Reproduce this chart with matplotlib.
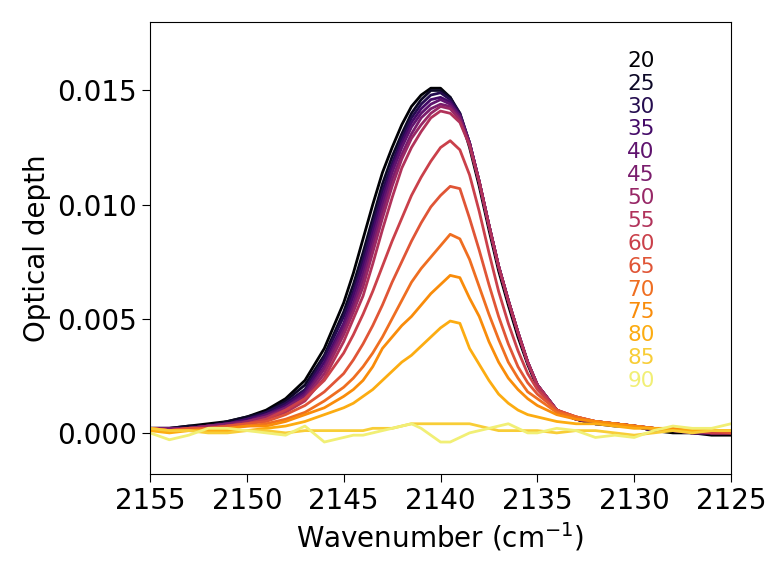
import numpy as np
import matplotlib
matplotlib.use('Agg')
import matplotlib.pyplot as plt

# wavenumber grid (cm-1)
wn = [2155, 2154, 2153, 2152, 2151, 2150, 2149, 2148, 2147, 2146, 2145,
      2144.5, 2144, 2143.5, 2143, 2142.5, 2142, 2141.5, 2141, 2140.5, 2140,
      2139.5, 2139, 2138.5, 2138, 2137.5, 2137, 2136.5, 2136, 2135.5, 2135,
      2134, 2133, 2132, 2131, 2130, 2129, 2128, 2127, 2126, 2125]

# temperatures (K)
temps = [20, 25, 30, 35, 40, 45, 50, 55, 60, 65, 70, 75, 80, 85, 90]

# optical depth for each temperature
od_20 = [.0002, .0002, .0003, .0004, .0005, .0007, .0010, .0015, .0023, .0037, .0057,
         .0070, .0085, .0100, .0114, .0125, .0135, .0143, .0148, .0151, .0151,
         .0147, .0139, .0125, .0108, .0089, .0071, .0056, .0042, .0030, .0020,
         .0009, .0006, .0004, .0003, .0003, .0001, .0000, .0000, -.0001, -.0001]
od_25 = [.0002, .0002, .0003, .0003, .0005, .0007, .0009, .0014, .0021, .0034, .0053,
         .0065, .0079, .0094, .0109, .0121, .0131, .0140, .0146, .0150, .0150,
         .0147, .0140, .0127, .0110, .0091, .0073, .0058, .0044, .0031, .0021,
         .0010, .0006, .0004, .0004, .0003, .0001, .0001, .0000, .0000, .0000]
od_30 = [.0002, .0002, .0002, .0003, .0004, .0006, .0009, .0013, .0019, .0033, .0051,
         .0062, .0076, .0091, .0106, .0118, .0129, .0138, .0144, .0148, .0149,
         .0146, .0140, .0127, .0110, .0091, .0073, .0058, .0044, .0031, .0021,
         .0010, .0006, .0004, .0004, .0003, .0001, .0001, .0000, .0000, .0000]
od_35 = [.0002, .0002, .0002, .0003, .0004, .0006, .0008, .0012, .0018, .0031, .0048,
         .0060, .0073, .0088, .0103, .0116, .0127, .0136, .0142, .0146, .0147,
         .0145, .0139, .0127, .0110, .0091, .0073, .0058, .0044, .0031, .0021,
         .0010, .0006, .0004, .0004, .0003, .0001, .0001, .0000, .0000, .0000]
od_40 = [.0002, .0002, .0002, .0003, .0004, .0005, .0008, .0011, .0017, .0029, .0047,
         .0057, .0070, .0085, .0100, .0114, .0125, .0134, .0140, .0144, .0146,
         .0144, .0139, .0127, .0110, .0091, .0073, .0058, .0044, .0031, .0021,
         .0010, .0006, .0005, .0004, .0003, .0002, .0001, .0000, .0000, .0000]
od_45 = [.0002, .0002, .0002, .0003, .0004, .0005, .0007, .0011, .0016, .0028, .0045,
         .0055, .0067, .0082, .0097, .0111, .0122, .0131, .0138, .0142, .0144,
         .0143, .0138, .0127, .0110, .0091, .0073, .0058, .0044, .0031, .0021,
         .0010, .0006, .0005, .0004, .0003, .0002, .0001, .0000, .0000, .0000]
od_50 = [.0002, .0001, .0002, .0003, .0003, .0005, .0007, .0010, .0015, .0026, .0043,
         .0053, .0064, .0079, .0094, .0108, .0120, .0129, .0135, .0140, .0143,
         .0142, .0137, .0126, .0110, .0091, .0073, .0058, .0044, .0031, .0021,
         .0010, .0006, .0005, .0004, .0003, .0002, .0001, .0001, .0000, .0000]
od_55 = [.0002, .0001, .0002, .0002, .0003, .0004, .0006, .0009, .0014, .0024, .0040,
         .0050, .0060, .0074, .0089, .0103, .0116, .0125, .0132, .0138, .0141,
         .0140, .0136, .0126, .0110, .0091, .0073, .0058, .0044, .0031, .0021,
         .0010, .0007, .0005, .0004, .0003, .0002, .0001, .0001, .0000, .0000]
od_60 = [.0002, .0001, .0002, .0002, .0003, .0004, .0006, .0010, .0015, .0023, .0035,
         .0043, .0052, .0062, .0073, .0084, .0094, .0104, .0112, .0119, .0125,
         .0128, .0124, .0113, .0097, .0079, .0062, .0048, .0036, .0026, .0019,
         .0010, .0007, .0005, .0004, .0003, .0002, .0001, .0001, .0000, .0000]
od_65 = [.0002, .0001, .0002, .0002, .0003, .0004, .0005, .0008, .0012, .0018, .0026,
         .0032, .0039, .0047, .0056, .0066, .0075, .0084, .0092, .0099, .0104,
         .0108, .0107, .0094, .0080, .0065, .0051, .0039, .0029, .0022, .0017,
         .0010, .0007, .0005, .0004, .0003, .0002, .0001, .0001, .0001, .0000]
od_70 = [.0002, .0001, .0001, .0002, .0002, .0003, .0004, .0006, .0009, .0014, .0020,
         .0024, .0029, .0035, .0042, .0050, .0058, .0066, .0072, .0077, .0082,
         .0087, .0085, .0076, .0064, .0052, .0041, .0031, .0024, .0018, .0015,
         .0009, .0007, .0005, .0004, .0003, .0002, .0001, .0001, .0001, .0001]
od_75 = [.0001, .0001, .0001, .0001, .0002, .0003, .0003, .0005, .0008, .0011, .0016,
         .0019, .0023, .0029, .0037, .0042, .0047, .0051, .0056, .0061, .0065,
         .0069, .0068, .0059, .0051, .0040, .0031, .0024, .0019, .0015, .0012,
         .0008, .0006, .0005, .0004, .0003, .0002, .0002, .0001, .0001, .0001]
od_80 = [.0001, .0000, .0001, .0001, .0001, .0001, .0002, .0003, .0005, .0008, .0011,
         .0013, .0016, .0019, .0023, .0027, .0031, .0034, .0038, .0042, .0046,
         .0049, .0048, .0037, .0030, .0023, .0017, .0013, .0010, .0008, .0007,
         .0005, .0004, .0004, .0003, .0002, .0002, .0001, .0001, .0001, .0001]
od_85 = [.0002, .0001, .0001, .0000, .0000, .0001, .0001, .0000, .0001, .0001, .0001,
         .0001, .0001, .0002, .0002, .0002, .0003, .0004, .0004, .0004, .0004,
         .0004, .0004, .0004, .0003, .0002, .0001, .0001, .0001, .0001, .0001,
         .0000, .0001, .0001, .0000, -.0001, .0000, .0001, .0000, .0001, .0001]
od_90 = [.0000, -.0003, -.0001, .0002, .0002, .0001, .0000, -.0001, .0003, -.0004, -.0002,
         -.0001, -.0001, .0000, .0001, .0002, .0003, .0004, .0002, -.0001, -.0004,
         -.0004, -.0002, .0000, .0001, .0002, .0003, .0004, .0002, .0000, .0000,
         .0002, .0001, -.0002, -.0001, -.0002, .0001, .0003, .0002, .0002, .0004]

spectra = [od_20, od_25, od_30, od_35, od_40, od_45, od_50, od_55,
           od_60, od_65, od_70, od_75, od_80, od_85, od_90]

# colours along the inferno map
colors = plt.cm.inferno(np.linspace(0, 0.95, len(temps)))

fig = plt.figure(figsize=(7.83, 5.73), dpi=100)
ax = fig.add_axes([0.1916, 0.1728, 0.742, 0.7888])

for T, od, c in zip(temps, spectra, colors):
    ax.plot(wn, od, color=c, lw=2)

# temperature labels in the upper right
for i, (T, c) in enumerate(zip(temps, colors)):
    ax.text(0.845, 0.914 - i * 0.0506, str(T), color=c, fontsize=15.5,
            ha='center', va='center', transform=ax.transAxes)

ax.set_xlim(2155, 2125)
ax.set_ylim(-0.0018, 0.018)
ax.set_xticks([2155, 2150, 2145, 2140, 2135, 2130, 2125])
ax.set_yticks([0.000, 0.005, 0.010, 0.015])
ax.set_yticklabels(['0.000', '0.005', '0.010', '0.015'])
ax.tick_params(labelsize=20, length=6)

ax.set_xlabel('Wavenumber (cm$^{-1}$)', fontsize=20)
ax.set_ylabel('Optical depth', fontsize=20)

fig.savefig('out.png', dpi=100)
